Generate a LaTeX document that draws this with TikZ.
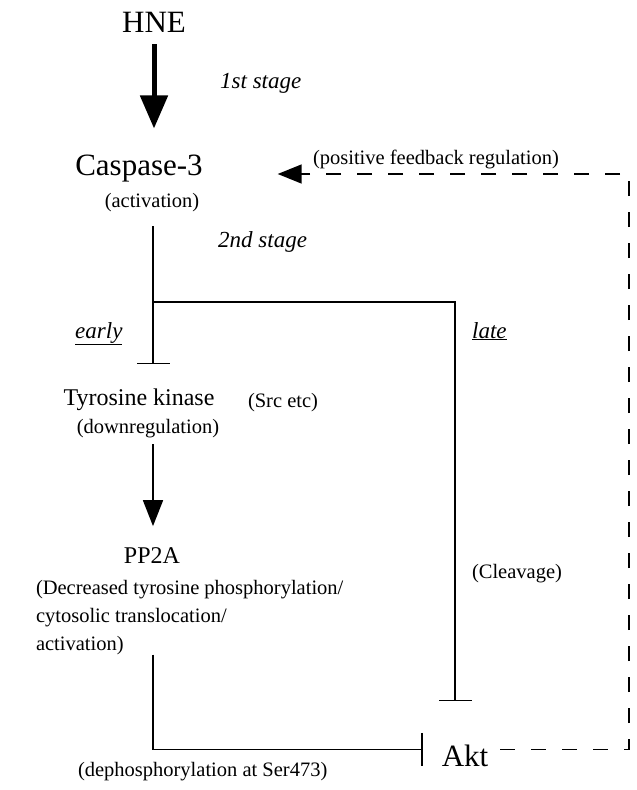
\documentclass[tikz,border=0pt]{standalone}
\usepackage{fontspec}
\setmainfont{Liberation Serif}
\usetikzlibrary{arrows.meta}

\tikzset{
  big/.style={font=\fontsize{31}{37}\selectfont,inner sep=0pt,outer sep=0pt,anchor=base},
  mid/.style={font=\fontsize{24}{29}\selectfont,inner sep=0pt,outer sep=0pt,anchor=base},
  small/.style={font=\fontsize{20.5}{28}\selectfont,inner sep=0pt,outer sep=0pt,anchor=base},
  stagelbl/.style={font=\fontsize{23}{28}\selectfont\itshape,inner sep=0pt,anchor=base west},
  link/.style={line width=1.8pt},
  inhibit/.style={link,-{Bar[width=33pt,line width=1.8pt]}},
  activate/.style={link,-{Triangle[width=20pt,length=26pt]}},
  feedback/.style={line width=1.5pt,dash pattern=on 15pt off 16pt,-{Triangle[width=19pt,length=24pt]}},
}

\begin{document}
\begin{tikzpicture}[x=1pt,y=-1pt]
  % page frame (pixel-like units, y grows downwards)
  \useasboundingbox (0,0) rectangle (637,790);

  %==========================
  % Nodes
  %==========================
  \node[big] (hne) at (154,32) {HNE};
  \node[big] (casp) at (139,175) {Caspase-3};
  \node[small] (caspact) at (152,207) {(activation)};

  \node[mid] (tk) at (139,405) {Tyrosine kinase};
  \node[small] (tkreg) at (148,433) {(downregulation)};
  \node[small,anchor=base west] (src) at (248,407) {(Src etc)};

  \node[mid] (pp2a) at (152,563) {PP2A};
  \node[small,anchor=north west,align=left] (pp2adesc) at (36,580)
    {(Decreased tyrosine phosphorylation/\\cytosolic translocation/\\activation)};

  \node[big] (akt) at (465,766) {Akt};
  \node[small,anchor=base west] (deph) at (78,776) {(dephosphorylation at Ser473)};
  \node[small,anchor=base west] (cleave) at (472,578) {(Cleavage)};
  \node[small,anchor=base west] (fb) at (313,164) {(positive feedback regulation)};

  % stage / timing labels
  \node[stagelbl] (st1) at (220,88) {1st stage};
  \node[stagelbl] (st2) at (218,247) {2nd stage};
  \node[stagelbl] (early) at (75,338) {\underline{early}};
  \node[stagelbl] (late) at (472,338) {\underline{late}};

  % branch point below caspase-3
  \coordinate (split) at (153,302);
  % upper right corner of the feedback loop
  \coordinate (fbturn) at (629,174);

  %==========================
  % Connectors
  %==========================
  % 1st stage: HNE -> caspase-3
  \draw[line width=5pt,-{Triangle[width=27pt,length=33pt]},shorten <=12pt,shorten >=26pt]
    (hne.south) -- (hne.south |- casp.north);

  % 2nd stage: early and late branches
  \draw[link,shorten <=15pt] (caspact.south -| split) -- (split);
  \draw[inhibit,shorten >=24pt] (split) -- (split |- tk.north);
  \draw[inhibit,shorten >=43pt] (split) -| ([xshift=-10pt]akt.north);

  % tyrosine kinase -> PP2A
  \draw[activate,shorten <=7pt,shorten >=21pt] (tkreg.south -| split) -- (pp2a.north -| split);

  % PP2A -| Akt
  \draw[inhibit,shorten >=18.5pt] (pp2adesc.south -| split) |- ([yshift=6pt]akt.west);

  % feedback loop Akt -> caspase-3
  \draw[feedback,shorten <=12pt,shorten >=75pt]
    ([yshift=6pt]akt.east) -| (fbturn) -- (fbturn -| casp.east);
\end{tikzpicture}
\end{document}
